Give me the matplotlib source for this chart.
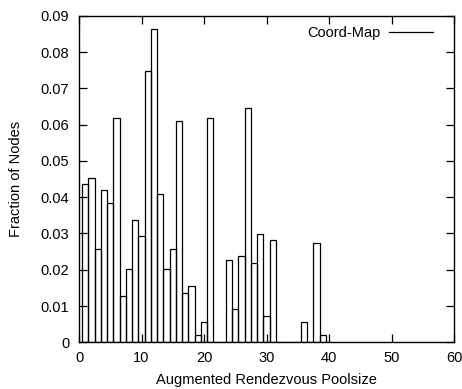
import matplotlib
matplotlib.use("Agg")
import matplotlib.pyplot as plt
from matplotlib.lines import Line2D

plt.rcParams['font.family'] = ['Liberation Sans', 'DejaVu Sans']

poolsize = list(range(1, 41))
fraction = [0.0437, 0.0454, 0.0256, 0.0419, 0.0383, 0.0619, 0.0128, 0.0201, 0.0336, 0.0292,
            0.0747, 0.0863, 0.0410, 0.0201, 0.0256, 0.0609, 0.0137, 0.0155, 0.0019, 0.0055,
            0.0619, 0.0, 0.0, 0.0228, 0.0091, 0.0237, 0.0645, 0.0218, 0.0299, 0.0073,
            0.0282, 0.0, 0.0, 0.0, 0.0, 0.0055, 0.0, 0.0273, 0.0019, 0.0]
series_name = "Coord-Map"
x_ticks = [0, 10, 20, 30, 40, 50, 60]
y_ticks = [0, 0.01, 0.02, 0.03, 0.04, 0.05, 0.06, 0.07, 0.08, 0.09]
y_tick_labels = ["0", "0.01", "0.02", "0.03", "0.04", "0.05", "0.06", "0.07", "0.08", "0.09"]

fig = plt.figure(figsize=(4.62, 3.89), dpi=100)
ax = fig.add_axes([0.171, 0.120, 0.812, 0.8396])

ax.bar(poolsize, fraction, width=1.0, fill=False, edgecolor='black', linewidth=0.9)

ax.set_xlim(0, 60)
ax.set_ylim(0, 0.09)
ax.set_xticks(x_ticks)
ax.set_yticks(y_ticks)
ax.set_yticklabels(y_tick_labels)
ax.tick_params(direction='in', top=True, right=True, length=6, width=0.9,
               labelsize=10.5)
ax.tick_params(axis='y', pad=7)
ax.tick_params(axis='x', pad=6)
for s in ax.spines.values():
    s.set_linewidth(1.0)

ax.set_xlabel("Augmented Rendezvous Poolsize", fontsize=10.5, labelpad=6)
ax.set_ylabel("Fraction of Nodes", fontsize=10.5, labelpad=13)

handle = Line2D([], [], color='black', linewidth=0.9)
ax.legend([handle], [series_name], loc='upper right', frameon=False,
          markerfirst=False, fontsize=10.5, handlelength=3.0, handletextpad=0.6,
          borderaxespad=0.3, bbox_to_anchor=(0.97, 1.0))

fig.savefig("out.png", dpi=100)
